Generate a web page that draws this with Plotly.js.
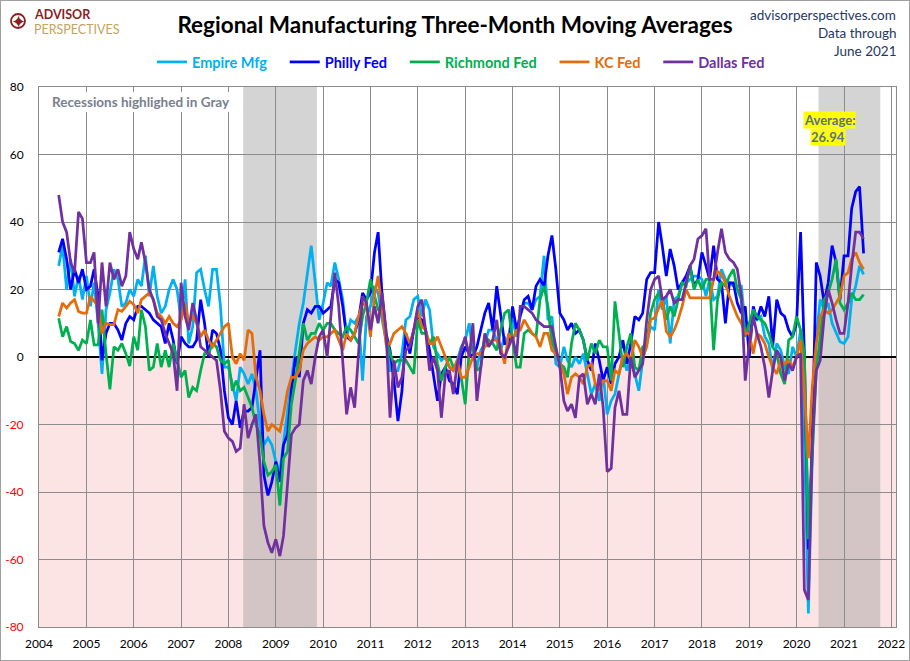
<!DOCTYPE html>
<html>
<head>
<meta charset="utf-8">
<script src="https://cdn.plot.ly/plotly-3.0.1.min.js"></script>
<style>
  body { margin: 0; background: #fff; }
  #chart { width: 910px; height: 661px; }
  #frame { position: absolute; left: 0; top: 0; width: 908px; height: 659px; border: 1px solid #a0a0a0; pointer-events: none; }
</style>
</head>
<body>
<div id="chart"></div>
<div id="frame"></div>
<script>
// monthly readings, Jun 2004 .. Jun 2021 (one line per year)
const empireMfg = [
  27, 33, 20, 29, 18, 24, 17,
  24, 15, 22, 10, -5, 14, 19, 26, 23, 15, 16, 20,
  18, 23, 21, 30, 18, 27, 18, 13, 15, 20, 23, 20,
  11, 23, 4, 9, 25, 26, 20, 15, 26, 26, 15, -3,
  -3, -8, -13, -3, -5, -8, -5, -10, -20, -26, -24, -26,
  -31, -34, -25, -16, -7, 2, 10, 16, 25, 33, 22, 11,
  16, 22, 21, 28, 23, 17, 6, 11, 10, 12, -7, 12,
  15, 21, 19, 11, 5, -4, -4, -4, 1, 11, 12, 17,
  18, 12, 17, 14, 3, 1, -1, 0, -3, -4, -1, 3,
  5, 10, 1, -3, 2, 4, 8, 8, 5, 2, 6, 3,
  11, 6, 12, 16, 16, 14, 17, 18, 30, 11, 12, -2,
  -3, 3, -1, -3, 0, -2, 1, -5, -11, -8, -13, -5,
  -17, -13, -11, -5, 0, -4, 0, -5, -10, -1, 4, 9,
  8, 20, 14, 18, 4, 17, 18, 22, 22, 23, 24, 24,
  23, 18, 23, 17, 18, 26, 23, 22, 21, 21, 21, 9,
  6, 12, 11, 12, 6, 4, -4, 4, 2, -3, -5, 3,
  0, 8, -24, -76, -30, 6, 17, 14, 16, 10, 7, 4.5,
  4, 6, 17, 21, 27, 24.5
];
const phillyFed = [
  31, 35, 29, 20, 26, 22, 26,
  20, 21, 26, 18, -1, 7, 10, 10, 8, 5, 10, 12,
  11, 15, 15, 14, 13, 11, 10, 9, 4, 10, 5, -2,
  6, 4, 3, 3, 5, 17, 10, 0, 8, 7, 2, -10,
  -18, -20, -13, -21, -16, -16, -15, -7, 2, -35, -41, -37,
  -31, -37, -26, -23, -10, 0, -6, 10, 14, 13, 15, 15,
  13, 14, 15, 23, 22, 15, 6, 5, 7, 11, 19, 17,
  19, 31, 37, 18, 7, 2, -7, -19, -10, 7, 1, 8,
  12, 11, 8, 2, -5, -13, -5, -3, -7, -8, -11, 0,
  3, 1, 0, 3, 8, 13, 16, 8, 21, 13, 4, 4,
  15, 8, 12, 17, 18, 14, 21, 23, 21, 30, 36, 26,
  13, 11, 8, 10, 7, 8, 5, -1, -4, 4, -1, -7,
  -3, -8, -2, 0, 5, -2, 4, 12, 11, 13, 23, 25,
  25, 40, 33, 24, 32, 27, 20, 22, 24, 27, 21, 23,
  31, 27, 23, 33, 23, 22, 10, 22, 22, 16, 13, 15,
  0, 15, 11, 15, 12, 18, 3, 17, 13, 12, 8, 6,
  10, 37, 1, -57, -25, 28, 24, 16, 22, 33, 28, 17,
  30, 30, 44, 49, 50.5, 30.7
];
const richmondFed = [
  11.5, 6, 9, 4.6, 4, 2, 5,
  4, 11, 3.6, 3.6, 14, 1, -9.6, 3, 2, 4, 1, -2.7,
  6, 2, 14, 9, -4, -3, 4, -3, 2, -3, 4, -1,
  -6, -4, -12, -9, -10, -4, 1, 1, 4, 3, -1, -2,
  -1, -10, -7, -10, -9, -12, -15, -20, -23, -31, -35, -34,
  -32, -44, -30, -28, -14, -7, 2, 10, 5, 7, 7, 10,
  8, 10, 10, 8, 7, 6, 9, 8, 6, 4, 12, 16,
  23, 18, 14, 13, 6, 1, -2, -1, -1, -1, -3, -5,
  11, 7, 7, 4, 6, -2, -7, -3, 0, -3, -2, -6,
  -14, 2, 3, -4, -3, 6, 5, 4, 2, 8, 13, 14,
  5, -3, -3, 7, 8, 7, 6, 17, 21, 15, 4, 2,
  -2, -3, -6, 4, 10, 8, 5, -1, 4, 1, 5, 3,
  3, -7, 16.5, 7, -3, 3, 7, -3, -4, 3, 4, 13,
  17, 19, 17, 11, 15, 12, 17, 22, 21, 27, 20, 23,
  20, 23, 23, 2, 17, 22, 21, 24, 26, 20, 17, 6,
  10, 14, 12, 11, 10, 7, 3, 1, -5, -8, 5, 6,
  12, 8, 1, -54, -30, -4, 6, 17, 19, 23, 29, 16,
  14, 16, 19, 17, 17, 18.5
];
const kcFed = [
  12, 16, 14.5, 16, 17, 13.5, 13,
  13, 18, 16.5, 15, 7, 10, 9.6, 9.6, 14, 13.5, 15, 16.5,
  15.5, 13, 17, 18, 19, 17, 13, 12, 10, 12, 10, 9,
  11, 16, 10, 12, 10, 6, 8, 5, 3, 5, 7, 9,
  10, 0, -2, 1, -1, 8, 7, -6, -10, -17, -22, -20,
  -21, -22, -17, -10, -6, -6, -4, 2, 4, 5, 6, 5,
  6, 6, 7, 8, 5, 2, 7, 5, 7, 12, 16, 15,
  6, 18, 24, 14, 4, 4, 7, 8, 9, 7, 4, 8,
  14, 9, 8, 4, 4, 6, 3, 0, -3, -4, -1, -6,
  -6, -3, 0, 1, 1, 3, 4, 5, 5, 3, -2, 7,
  5, 8, 8, 11, 9, 7, 6, 3, 7, 7, 2, 1,
  -2, -5, -11, -6, -5, -6, -8, -3, -2, -8, -10, -7,
  -7, -10, -4, -5, 0, 1, -1, 5, 3, 0, 3, 11,
  11.6, 14.5, 17, 7.6, 6, 8, 11, 15, 20, 17.5, 17.5, 17.5,
  17.5, 17.5, 17.5, 23, 25.4, 24.4, 22, 18, 15, 12, 10, 7,
  7, 1, 7, 6, 4, 0, -3, -5, -1, -2, -1, -3,
  0, 5, -10, -30, -9, 4, 12, 14, 13, 14, 16, 18,
  24, 25, 29, 31, 28, 26
];
const dallasFed = [
  48, 40, 37, 28, 25, 43, 41,
  28, 28, 31, 10, 28, 15, 28, 23, 26, 21, 24, 37,
  32, 29, 34, 28, 20, 17, 12, 11, 7, 4, 1, -10,
  22, 12, 8, 16, 11, 3, 2, 1, 0, -1, -10, -22,
  -24, -25, -28, -27, -14, -24, -20, -17, -32, -50, -55, -58,
  -54, -59, -53, -37, -23, -21, -20, -7, -4, -8, 0, 6,
  8, 0, 11, 25, 15, -1, -17, -9, -15, 1, 18, 16,
  8, 15, 10, 19, 8, -18, -1, -9, -6, 2, 3, 8,
  15, 17, 8, -4, 0, -4, -18, -5, -4, -11, -2, 2,
  6, 0, 10, -13, -3, 7, 3, 5, 11, 1, 0, 3,
  6, 0, 15, 15, 14, 13, 11, 10, 9, 9, 9, 3,
  -3, -13, -16, -14, -18, -6, -5, -14, -11, -14, -5, -15,
  -34, -33, -15, -10, -17, -17, 0, -6, -4, -2, 11, 20,
  23, 24, 17, 18, 20, 16, 17, 17, 22, 27, 29, 35,
  36, 38, 23, 23, 31, 38, 31, 29, 28, 26, 18, -7,
  4, 12, 7, 3, -3, -12, -4, 2, 0, -7, -2, -4,
  0, 1, -69, -72, -25, -4, -1, 12, 20, 16, 11, 7,
  7, 16, 27, 37, 37, 35
];

const seriesNames = ['Empire Mfg', 'Philly Fed', 'Richmond Fed', 'KC Fed', 'Dallas Fed'];
const seriesColors = ['#00b0f0', '#0000ff', '#00b050', '#e46c0a', '#7030a0'];
const seriesData = [empireMfg, phillyFed, richmondFed, kcFed, dallasFed];

const recessions = [['2008-04-24', '2009-11-14'], ['2020-06-18', '2021-10-08']];
const yTicks = [-80, -60, -40, -20, 0, 20, 40, 60, 80];

// month dates, first of each month from Jun 2004
const months = [];
for (let k = 0; k < empireMfg.length; k++) {
  const yr = 2004 + Math.floor((5 + k) / 12);
  const mo = (5 + k) % 12 + 1;
  months.push(yr + '-' + String(mo).padStart(2, '0') + '-01');
}

const FONT = 'Lato, "Open Sans", "DejaVu Sans", sans-serif';
const X0 = '2004-01-01', X1 = '2022-02-06';

// pixel helpers for things placed outside the plot area
const L = 39, R = 14, T = 87, B = 34, W = 910, H = 661;
const px = function(x){ return (x - L) / (W - L - R); };
const py = function(y){ return (H - B - y) / (H - T - B); };

const GAP = '\u2003\u2009';  // spacing between legend entries
const traces = seriesData.map(function(vals, i){
  const pad = i < seriesNames.length - 1 ? GAP : '';
  return {
    x: months, y: vals, type: 'scatter', mode: 'lines',
    name: '<b><span style="color:' + seriesColors[i] + '">' + seriesNames[i] + '</span></b>' + pad,
    line: {color: seriesColors[i], width: 2.75},
    hoverinfo: 'x+y'
  };
});

const latest = seriesData.map(function(s){ return s[s.length - 1]; });
const avg = latest.reduce(function(a, b){ return a + b; }, 0) / latest.length;

const shapes = [
  {type: 'rect', xref: 'x', yref: 'y', x0: X0, x1: X1, y0: -80, y1: 0,
   fillcolor: '#fde4e4', line: {width: 0}, layer: 'below'}
];
recessions.forEach(function(r){
  shapes.push({type: 'rect', xref: 'x', yref: 'y', x0: r[0], x1: r[1], y0: -80, y1: 80,
    fillcolor: 'rgba(160,160,160,0.45)', line: {width: 0}, layer: 'below'});
});
// note box top-left (white, hides the grid)
shapes.push({type: 'rect', xref: 'paper', yref: 'paper', x0: px(40), x1: px(239), y0: py(112), y1: py(92),
  fillcolor: '#ffffff', line: {width: 0}, layer: 'above'});
// logo ring
shapes.push({type: 'circle', xref: 'paper', yref: 'paper', x0: px(11), x1: px(25), y0: py(28), y1: py(14),
  line: {color: '#8b1e1e', width: 1.8}, fillcolor: 'rgba(0,0,0,0)'});

const annotations = [
  {xref: 'paper', yref: 'paper', x: px(18), y: py(21), xanchor: 'center', yanchor: 'middle',
   text: '✦', showarrow: false, font: {family: 'DejaVu Sans', size: 18, color: '#8b1e1e'}},
  {xref: 'paper', yref: 'paper', x: px(32), y: py(14.5), xanchor: 'left', yanchor: 'middle',
   text: '<b>ADVISOR</b>', showarrow: false, font: {family: FONT, size: 12.5, color: '#8b1e1e'}},
  {xref: 'paper', yref: 'paper', x: px(32), y: py(29), xanchor: 'left', yanchor: 'middle',
   text: 'PERSPECTIVES', showarrow: false, font: {family: FONT, size: 12.5, color: '#c4a35a'}},
  {xref: 'paper', yref: 'paper', x: px(898), y: py(15), xanchor: 'right', yanchor: 'middle', text: 'advisorperspectives.com', showarrow: false,
   font: {family: FONT, size: 13.5, color: '#1f3864'}},
  {xref: 'paper', yref: 'paper', x: px(898), y: py(33), xanchor: 'right', yanchor: 'middle', text: 'Data through', showarrow: false,
   font: {family: FONT, size: 13.5, color: '#1f3864'}},
  {xref: 'paper', yref: 'paper', x: px(898), y: py(51), xanchor: 'right', yanchor: 'middle', text: 'June 2021', showarrow: false,
   font: {family: FONT, size: 13.5, color: '#1f3864'}},
  {xref: 'paper', yref: 'paper', x: px(50), y: py(102), xanchor: 'left', yanchor: 'middle', text: '<b>Recessions highlighed in Gray</b>', showarrow: false,
   font: {family: FONT, size: 13.5, color: '#77808f'}},
  {xref: 'paper', yref: 'paper', x: px(829), y: py(120), xanchor: 'center', yanchor: 'middle', text: '<b>Average:</b>', showarrow: false,
   bgcolor: '#ffff00', borderpad: 0, font: {family: FONT, size: 13, color: '#5a6f95'}},
  {xref: 'paper', yref: 'paper', x: px(828), y: py(137), xanchor: 'center', yanchor: 'middle', text: '<b>' + avg.toFixed(2) + '</b>', showarrow: false,
   bgcolor: '#ffff00', borderpad: 0, font: {family: FONT, size: 13, color: '#5a6f95'}}
];

const layout = {
  width: W, height: H,
  margin: {l: L, r: R, t: T, b: B, pad: 0},
  paper_bgcolor: '#ffffff', plot_bgcolor: '#ffffff',
  font: {family: FONT, size: 12, color: '#000'},
  title: {text: '<b>Regional Manufacturing Three-Month Moving Averages</b>',
    font: {family: FONT, size: 22.5, color: '#000'},
    x: 455 / W, xanchor: 'center', xref: 'container', y: 1 - 25 / H, yanchor: 'middle', yref: 'container'},
  showlegend: true,
  legend: {orientation: 'h', xref: 'container', yref: 'container', x: 461 / W, xanchor: 'center',
    y: 1 - 46 / H, yanchor: 'top', font: {family: FONT, size: 14.5}, bgcolor: 'rgba(0,0,0,0)', itemwidth: 30},
  xaxis: {type: 'date', range: [X0, X1], tick0: '2004-01-01', dtick: 'M12', tickformat: '%Y',
    showgrid: true, gridcolor: '#8c8c8c', gridwidth: 1, zeroline: false,
    showline: true, linecolor: '#8c8c8c', linewidth: 1, mirror: true, ticks: '',
    ticklabelstandoff: 6, tickfont: {family: FONT, size: 12, color: '#000'}, fixedrange: true},
  yaxis: {range: [-80, 80], tickvals: yTicks,
    ticktext: yTicks.map(function(v){ return v < 0 ? '<span style="color:#ff0000">' + v + '</span>' : String(v); }),
    showgrid: true, gridcolor: '#8c8c8c', gridwidth: 1,
    zeroline: true, zerolinecolor: '#000000', zerolinewidth: 2.5,
    showline: true, linecolor: '#8c8c8c', linewidth: 1, mirror: true, ticks: '',
    ticklabelstandoff: 12, tickfont: {family: FONT, size: 12, color: '#000'}, fixedrange: true},
  shapes: shapes,
  annotations: annotations
};

Plotly.newPlot('chart', traces, layout, {displayModeBar: false, staticPlot: true});
</script>
</body>
</html>
